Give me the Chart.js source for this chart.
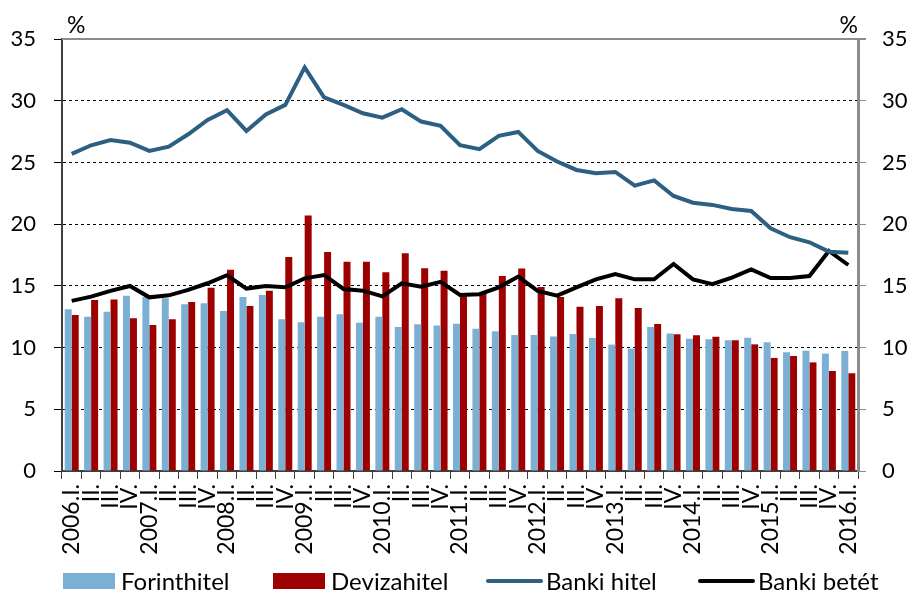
<!DOCTYPE html>
<html>
<head>
<meta charset="utf-8">
<script src="https://cdn.jsdelivr.net/npm/chart.js@4/dist/chart.umd.min.js"></script>
<style>
html,body{margin:0;padding:0;background:#fff;}
#wrap{width:911px;height:592px;position:relative;}
</style>
</head>
<body>
<div id="wrap"><canvas id="c" width="911" height="592"></canvas></div>
<script>
const years = ["2006","2007","2008","2009","2010","2011","2012","2013","2014","2015","2016"];
const quarters = ["I.","II.","III.","IV."];
const categories = [];
years.forEach(function(y, yi){
  quarters.forEach(function(q, qi){
    if (yi === years.length - 1 && qi > 0) return;
    categories.push(qi === 0 ? y + "." + q : q);
  });
});

const forinthitel = [13.1,12.5,12.9,14.2,14.1,14.0,13.5,13.6,12.97,14.1,14.26,
  12.3,12.05,12.5,12.7,12.02,12.5,11.67,11.89,11.78,11.94,
  11.53,11.32,11.02,11.02,10.9,11.1,10.78,10.24,9.91,11.67,
  11.13,10.72,10.67,10.6,10.8,10.43,9.62,9.75,9.51,9.72];
const devizahitel = [12.64,13.86,13.9,12.37,11.83,12.3,13.7,14.85,16.3,13.37,14.6,
  17.34,20.7,17.75,16.96,16.96,16.1,17.64,16.42,16.23,14.26,
  14.4,15.8,16.4,14.9,14.1,13.3,13.37,14.0,13.2,11.9,
  11.07,11.0,10.88,10.6,10.26,9.16,9.32,8.8,8.1,7.92];
const bankiHitel = [25.69,26.39,26.82,26.6,25.93,26.28,27.28,28.44,29.23,27.55,28.88,
  29.66,32.7,30.28,29.66,28.98,28.63,29.31,28.31,27.96,26.39,
  26.07,27.15,27.47,25.93,25.07,24.39,24.12,24.23,23.12,23.55,
  22.28,21.74,21.56,21.23,21.07,19.67,18.94,18.53,17.77,17.69];
const bankiBetet = [13.78,14.13,14.59,14.99,14.07,14.23,14.67,15.21,15.86,14.78,14.99,
  14.88,15.61,15.88,14.75,14.61,14.15,15.21,14.94,15.32,14.26,
  14.32,14.88,15.75,14.59,14.21,14.88,15.53,15.96,15.53,15.53,
  16.77,15.53,15.13,15.67,16.34,15.64,15.64,15.8,17.83,16.69];
const yTicks = [0,5,10,15,20,25,30,35];

const FONT = "Lato, 'Open Sans', sans-serif";
const C_FORINT = "#7BAFD4";
const C_DEVIZA = "#9C0000";
const C_HITEL = "#2C5F82";
const C_BETET = "#000000";

const decorPlugin = {
  id: "decor",
  afterDraw(chart) {
    const ctx = chart.ctx;
    const a = chart.chartArea;
    ctx.save();
    // top border
    ctx.strokeStyle = "#8C8C8C";
    ctx.lineWidth = 2;
    ctx.beginPath();
    ctx.moveTo(a.left, a.top);
    ctx.lineTo(a.right + 8, a.top);
    ctx.stroke();
    // % labels
    ctx.fillStyle = "#000";
    ctx.font = "23px " + FONT;
    ctx.textBaseline = "alphabetic";
    ctx.textAlign = "left";
    ctx.fillText("%", 67, 33);
    ctx.textAlign = "right";
    ctx.fillText("%", 858, 33);
    // legend
    const ly = 581;
    ctx.font = "24px " + FONT;
    ctx.textAlign = "left";
    ctx.textBaseline = "middle";
    const items = [
      {type:"box", color:C_FORINT, x:63, label:"Forinthitel"},
      {type:"box", color:C_DEVIZA, x:273, label:"Devizahitel"},
      {type:"line", color:C_HITEL, x:488, label:"Banki hitel"},
      {type:"line", color:C_BETET, x:700, label:"Banki betét"}
    ];
    items.forEach(function(it){
      if (it.type === "box") {
        ctx.fillStyle = it.color;
        ctx.fillRect(it.x, ly - 8, 52, 16);
      } else {
        ctx.strokeStyle = it.color;
        ctx.lineWidth = 4;
        ctx.lineCap = "round";
        ctx.beginPath();
        ctx.moveTo(it.x, ly);
        ctx.lineTo(it.x + 53, ly);
        ctx.stroke();
      }
      ctx.fillStyle = "#000";
      ctx.fillText(it.label, it.x + 58, ly + 1);
    });
    ctx.restore();
  }
};

const gridColor = function(c){
  const v = c.tick ? c.tick.value : null;
  if (v === 0 || v === 35) return "rgba(0,0,0,0)";
  return "#000";
};

new Chart(document.getElementById("c"), {
  type: "bar",
  data: {
    labels: categories,
    datasets: [
      {type:"line", label:"Banki hitel", data: bankiHitel, borderColor: C_HITEL, backgroundColor: C_HITEL,
        borderWidth: 4, pointRadius: 0, tension: 0, order: 0, yAxisID: "y"},
      {type:"line", label:"Banki betét", data: bankiBetet, borderColor: C_BETET, backgroundColor: C_BETET,
        borderWidth: 4, pointRadius: 0, tension: 0, order: 0, yAxisID: "y"},
      {label:"Forinthitel", data: forinthitel, backgroundColor: C_FORINT, order: 1,
        categoryPercentage: 0.72, barPercentage: 1.0, yAxisID: "y"},
      {label:"Devizahitel", data: devizahitel, backgroundColor: C_DEVIZA, order: 1,
        categoryPercentage: 0.72, barPercentage: 1.0, yAxisID: "y"}
    ]
  },
  options: {
    responsive: false,
    animation: false,
    layout: {padding: {left: 0, right: 0, top: 39, bottom: 31}},
    plugins: {legend: {display: false}, tooltip: {enabled: false}},
    scales: {
      x: {
        offset: true,
        grid: {offset: true, drawOnChartArea: false, drawTicks: true, tickLength: 8, color: "#404040", lineWidth: 1},
        border: {display: true, color: "#404040", width: 2},
        ticks: {autoSkip: false, minRotation: 90, maxRotation: 90, padding: 5, color: "#000",
          font: {family: FONT, size: 23}},
        afterFit(s){ s.height = 90; }
      },
      y: {
        position: "left",
        min: 0, max: 35,
        afterBuildTicks(s){ s.ticks = yTicks.map(function(v){ return {value: v}; }); },
        grid: {color: gridColor, lineWidth: 1, drawTicks: true, tickLength: 8, tickColor: "#000", tickBorderDash: []},
        border: {display: true, color: "#404040", width: 2, dash: [3,3]},
        ticks: {padding: 18, color: "#000", font: {family: FONT, size: 22}},
        afterFit(s){ s.width = 62; }
      },
      y2: {
        position: "right",
        min: 0, max: 35,
        afterBuildTicks(s){ s.ticks = yTicks.map(function(v){ return {value: v}; }); },
        grid: {drawOnChartArea: false, drawTicks: true, tickLength: 8, color: "#8C8C8C"},
        border: {display: true, color: "#8C8C8C", width: 3},
        ticks: {padding: 16, color: "#000", font: {family: FONT, size: 22}},
        afterFit(s){ s.width = 53; }
      }
    }
  },
  plugins: [decorPlugin]
});
</script>
</body>
</html>
